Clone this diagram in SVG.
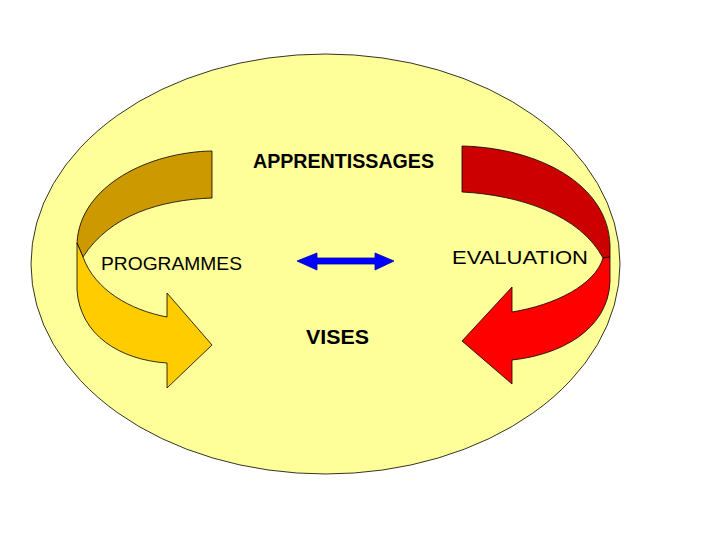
<svg xmlns="http://www.w3.org/2000/svg" width="720" height="540" viewBox="0 0 720 540">
<style>
.lbl{font-family:"Liberation Sans","DejaVu Sans",sans-serif;fill:#000;}
.b{font-weight:bold;font-size:20px;}
.r{font-size:19px;}
.o{stroke:#000;stroke-width:0.8;stroke-linejoin:round;}
</style>
<rect width="720" height="540" fill="#fff"/>
<g id="background">
<ellipse cx="325.5" cy="264" rx="294.5" ry="210" fill="#FFFF99" stroke="#000" stroke-width="0.8"/>
</g>
<g id="left-arrow">
<path class="o" fill="#CC9900" d="M212,151 C150,152 80,185 77,243 L83,257 C110,215 160,200 212,198 Z"/>
<path class="o" fill="#FFCC00" d="M77,243 L77,290 C80,335 120,360 167,363 L167,388 L212,345 L167,293 L167,317 C130,310 95,290 83,257 Z"/>
</g>
<g id="right-arrow">
<path class="o" fill="#CC0000" d="M462,146 C540,148 608,185 610,245 L610,257 L603,258 C580,215 520,195 462,192 Z"/>
<path class="o" fill="#FF0000" d="M610,257 L610,282 C608,330 560,355 512,360 L512,384 L462,341 L512,287 L512,312 C555,305 595,285 603,258 Z"/>
</g>
<g id="connectors">
<path fill="#0000FF" stroke="#0000AA" stroke-width="0.8" d="M297,261 L317,253 L317,258 L375,258 L375,253 L394,261 L375,270 L375,264 L317,264 L317,270 Z"/>
</g>
<g id="apprentissages"><text class="lbl b" x="253" y="168" textLength="181" lengthAdjust="spacingAndGlyphs">APPRENTISSAGES</text></g>
<g id="programmes"><text class="lbl r" x="101" y="270" textLength="141" lengthAdjust="spacingAndGlyphs">PROGRAMMES</text></g>
<g id="evaluation"><text class="lbl r" x="452" y="264" textLength="136" lengthAdjust="spacingAndGlyphs">EVALUATION</text></g>
<g id="vises"><text class="lbl b" x="306" y="344" textLength="63" lengthAdjust="spacingAndGlyphs">VISES</text></g>
</svg>
